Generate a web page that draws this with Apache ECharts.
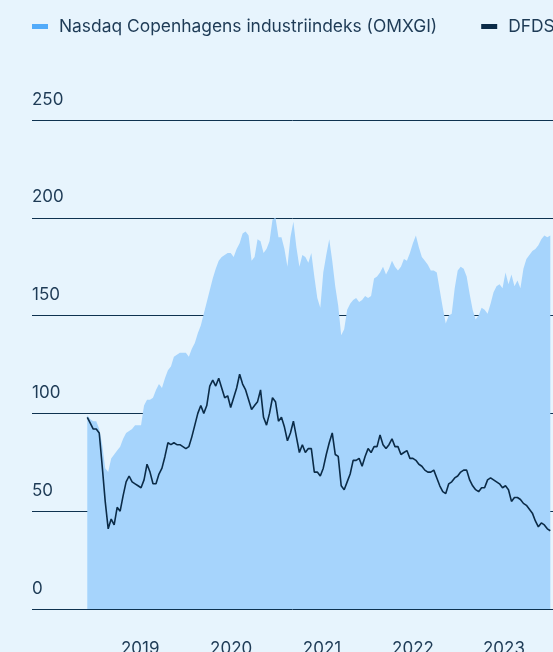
<!DOCTYPE html>
<html>
<head>
<meta charset="utf-8">
<script src="https://cdn.jsdelivr.net/npm/echarts@6/dist/echarts.min.js"></script>
<style>
html,body{margin:0;padding:0;background:#e7f4fd;}
#c{width:553px;height:652px;}
</style>
</head>
<body>
<div id="c"></div>
<script>
// Sampling: one observation every 12 days starting mid 2018 (decimal years)
const startYear = 2018.418;
const stepDays = 12;
const yearLabels = [2019, 2020, 2021, 2022, 2023];
const yTicks = [0, 50, 100, 150, 200, 250];

const omxgiName = 'Nasdaq Copenhagens industriindeks (OMXGI)';
const dfdsName = 'DFDS';

const omxgi = [
  99, 97, 96, 96, 92, 84, 72, 70, 77, 79,
  81, 83, 87, 90, 91, 92, 94, 94, 94, 104,
  107, 107, 108, 112, 115, 113, 118, 122, 124, 129,
  130, 131, 131, 131, 129, 133, 136, 141, 145, 151,
  157, 163, 169, 174, 178, 180, 181, 182, 182, 180,
  184, 187, 192, 193, 191, 178, 180, 189, 188, 182,
  184, 188, 199, 200, 190, 190, 184, 175, 190, 198,
  185, 175, 181, 180, 177, 182, 170, 159, 154, 172,
  181, 189, 178, 165, 155, 140, 143, 153, 156, 158,
  159, 157, 158, 160, 159, 160, 169, 170, 172, 175,
  171, 174, 178, 175, 173, 175, 179, 178, 182, 187,
  191, 185, 180, 178, 176, 173, 173, 172, 163, 154,
  146, 150, 151, 164, 173, 175, 174, 170, 161, 153,
  148, 150, 154, 153, 151, 156, 162, 165, 166, 164,
  172, 166, 171, 165, 168, 164, 174, 179, 181, 183,
  184, 186, 189, 191, 190, 191
];

const dfds = [
  98, 95, 92, 92, 90, 73, 55, 41, 46, 43,
  52, 50, 58, 65, 68, 65, 64, 63, 62, 66,
  74, 70, 64, 64, 69, 72, 78, 85, 84, 85,
  84, 84, 83, 82, 83, 88, 94, 100, 104, 100,
  104, 114, 117, 114, 118, 113, 108, 109, 103, 108,
  113, 120, 115, 112, 107, 102, 104, 106, 112, 98,
  94, 100, 108, 106, 96, 98, 93, 86, 90, 96,
  88, 80, 84, 80, 82, 82, 70, 70, 68, 72,
  79, 85, 90, 79, 78, 63, 61, 65, 69, 76,
  76, 77, 73, 78, 82, 80, 83, 83, 89, 84,
  82, 84, 87, 83, 83, 79, 80, 81, 77, 77,
  76, 74, 73, 71, 70, 70, 71, 67, 63, 60,
  59, 64, 65, 67, 68, 70, 71, 71, 66, 63,
  61, 60, 62, 62, 66, 67, 66, 65, 64, 62,
  63, 61, 55, 57, 57, 56, 54, 53, 51, 49,
  45, 42, 44, 43, 41, 40
];

function withDates(values) {
  return values.map((v, i) => [startYear + i * stepDays / 365.25, v]);
}

const textColor = '#1e3b56';
const fontFamily = 'Inter, "Noto Sans", sans-serif';

const chart = echarts.init(document.getElementById('c'), null, {renderer: 'canvas'});
chart.setOption({
  backgroundColor: '#e7f4fd',
  animation: false,
  textStyle: {fontFamily: fontFamily},
  legend: {
    left: 32,
    top: 18,
    padding: 0,
    width: 900,
    itemWidth: 16,
    itemHeight: 5,
    itemGap: 44,
    icon: 'rect',
    textStyle: {color: textColor, fontSize: 17.4, fontFamily: fontFamily, padding: [0, 0, 0, 6]},
    data: [omxgiName, dfdsName]
  },
  grid: {left: 32, right: 0, top: 120, bottom: 43, containLabel: false, outerBoundsMode: 'none'},
  xAxis: {
    type: 'value',
    min: 2017.81,
    max: 2023.54,
    axisLine: {show: false},
    axisTick: {show: false},
    splitLine: {show: false},
    axisLabel: {
      customValues: yearLabels,
      formatter: v => String(v),
      color: textColor,
      fontSize: 17,
      margin: 31,
      fontFamily: fontFamily
    }
  },
  yAxis: {
    type: 'value',
    min: yTicks[0],
    max: yTicks[yTicks.length - 1],
    interval: 50,
    axisLine: {show: false},
    axisTick: {show: false},
    axisLabel: {
      inside: true,
      margin: 0,
      verticalAlign: 'bottom',
      padding: [0, 0, 12, 0],
      color: textColor,
      fontSize: 17,
      fontFamily: fontFamily
    },
    splitLine: {show: true, lineStyle: {color: '#0e3250', width: 1}}
  },
  series: [
    {
      name: omxgiName,
      type: 'line',
      data: withDates(omxgi),
      symbol: 'none',
      lineStyle: {width: 0},
      itemStyle: {color: '#52abfa'},
      areaStyle: {color: '#a6d4fc', opacity: 1},
      z: 2
    },
    {
      name: dfdsName,
      type: 'line',
      data: withDates(dfds),
      symbol: 'none',
      lineStyle: {width: 1.6, color: '#0b2b47'},
      itemStyle: {color: '#0b2b47'},
      z: 3
    }
  ]
});
</script>
</body>
</html>
